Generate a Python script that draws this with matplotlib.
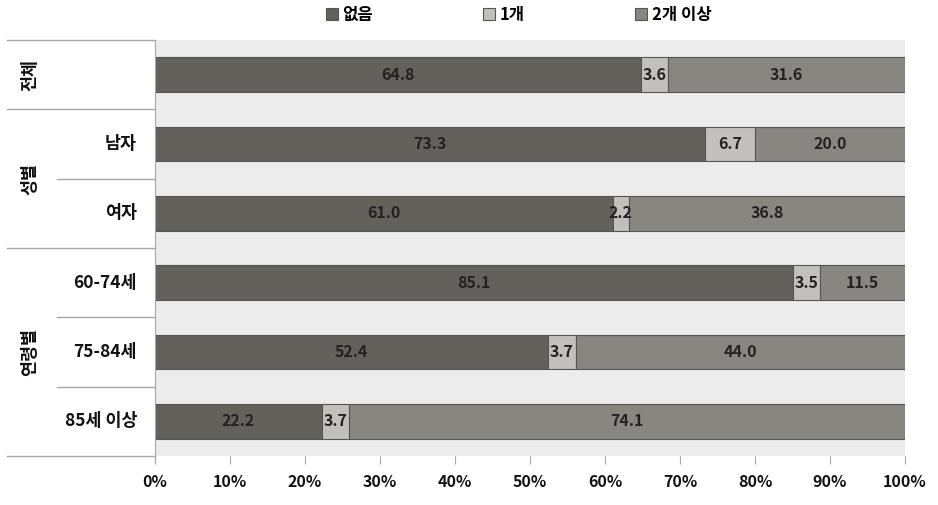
import numpy as np
import matplotlib.pyplot as plt
import matplotlib.transforms as mtransforms

plt.rcParams['font.family'] = ['Noto Sans CJK KR', 'DejaVu Sans']

# data
row_labels = ['', '남자', '여자', '60-74세', '75-84세', '85세 이상']
groups = ['전체', '성별', '연령별']
group_rows = [(0, 0), (1, 2), (3, 5)]
series_names = ['없음', '1개', '2개 이상']
none_vals = [64.8, 73.3, 61.0, 85.1, 52.4, 22.2]
one_vals = [3.6, 6.7, 2.2, 3.5, 3.7, 3.7]
two_vals = [31.6, 20.0, 36.8, 11.5, 44.0, 74.1]

colors = ['#63615c', '#c1c0bc', '#878681']
edge = '#55544f'
line_c = '#a6a6a6'

fig = plt.figure(figsize=(9.38, 5.05), dpi=100)
ax = fig.add_axes([155/938, 1-456/505, 750/938, 416/505])
ax.set_facecolor('#ececec')

y = np.arange(len(row_labels))
left = np.zeros(len(y))
for vals, c, name in zip([none_vals, one_vals, two_vals], colors, series_names):
    vals = np.array(vals)
    bars = ax.barh(y, vals, left=left, height=0.5, color=c, edgecolor=edge,
                   linewidth=0.8, label=name)
    for b, v in zip(bars, vals):
        ax.text(b.get_x() + b.get_width()/2, b.get_y() + b.get_height()/2,
                '%.1f' % v, ha='center', va='center', fontsize=11.5,
                fontweight='bold', color='#222222')
    left = left + vals

ax.set_xlim(0, 100)
ax.set_ylim(len(y) - 0.5, -0.5)
ax.set_xticks(np.arange(0, 101, 10))
ax.set_xticklabels(['%d%%' % t for t in range(0, 101, 10)], fontsize=11.5, fontweight='bold')
ax.tick_params(axis='x', length=6, color=line_c, pad=7, labelcolor='#111111')
ax.set_yticks([])
for s in ['top', 'right', 'bottom']:
    ax.spines[s].set_visible(False)
ax.spines['left'].set_color(line_c)
ax.spines['left'].set_bounds(len(y) - 0.5 + 0.1, -0.5)

# left-side category table
tr = mtransforms.blended_transform_factory(ax.transAxes, ax.transData)
x_far = (7 - 155) / 750
x_mid = (57 - 155) / 750
full_lines = [-0.5] + [g[1] + 0.5 for g in group_rows]
part_lines = [r + 0.5 for g in group_rows for r in range(g[0], g[1])]
for yy in full_lines:
    ax.plot([x_far, 0], [yy, yy], transform=tr, color=line_c, lw=1, clip_on=False)
for yy in part_lines:
    ax.plot([x_mid, 0], [yy, yy], transform=tr, color=line_c, lw=1, clip_on=False)

for i, lab in enumerate(row_labels):
    ax.text((137 - 155) / 750, i, lab, transform=tr, ha='right', va='center',
            fontsize=12.5, fontweight='bold', color='#111111')
for g, (a, b) in zip(groups, group_rows):
    ax.text((30 - 155) / 750, (a + b) / 2, g, transform=tr, ha='center', va='center',
            rotation=90, fontsize=12.5, fontweight='bold', color='#111111')

fig.legend(loc='upper center', bbox_to_anchor=(0.553, 1.018), ncol=3, frameon=False,
           handlelength=0.7, handleheight=0.7, columnspacing=6.6, handletextpad=0.3,
           prop={'size': 12, 'weight': 'bold'})

fig.savefig('out.png', dpi=100)
